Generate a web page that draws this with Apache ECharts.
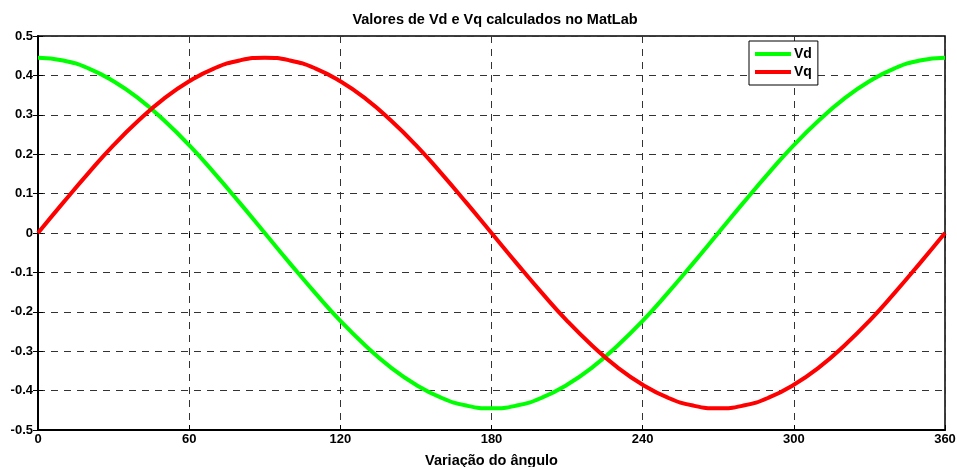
<!DOCTYPE html>
<html><head><meta charset="utf-8">
<script src="https://cdn.jsdelivr.net/npm/echarts@6/dist/echarts.min.js"></script>
<style>html,body{margin:0;padding:0;background:#fff}#c{width:957px;height:467px}</style>
</head><body><div id="c"></div>
<script>
const angles = [0,10,20,30,40,50,60,70,80,90,100,110,120,130,140,150,160,170,180,190,200,210,220,230,240,250,260,270,280,290,300,310,320,330,340,350,360];
const vd = [0.445,0.438,0.418,0.385,0.341,0.286,0.223,0.152,0.077,0,-0.077,-0.152,-0.223,-0.286,-0.341,-0.385,-0.418,-0.438,-0.445,-0.438,-0.418,-0.385,-0.341,-0.286,-0.223,-0.152,-0.077,0,0.077,0.152,0.223,0.286,0.341,0.385,0.418,0.438,0.445];
const vq = [0,0.077,0.152,0.223,0.286,0.341,0.385,0.418,0.438,0.445,0.438,0.418,0.385,0.341,0.286,0.223,0.152,0.077,0,-0.077,-0.152,-0.223,-0.286,-0.341,-0.385,-0.418,-0.438,-0.445,-0.438,-0.418,-0.385,-0.341,-0.286,-0.223,-0.152,-0.077,0];
const titleText = 'Valores de Vd e Vq calculados no MatLab';
const xName = 'Variação do ângulo';

const font = 'Liberation Sans, Arial, sans-serif';
const chart = echarts.init(document.getElementById('c'));
const gridLine = {show:true, lineStyle:{color:'#333', type:[7,6], width:1}};
const tickStyle = {show:true, inside:true, length:5, lineStyle:{color:'#000'}};
chart.setOption({
  animation:false,
  backgroundColor:'#fff',
  title:{text:titleText, left:490, top:7, textAlign:'center',
    textStyle:{fontFamily:font, fontSize:14.5, fontWeight:'bold', color:'#000'}},
  legend:{data:['Vd','Vq'], orient:'vertical', left:749, top:41,
    backgroundColor:'#fff', borderColor:'#000', borderWidth:1, padding:[6,6,6,6],
    itemWidth:36, itemHeight:4, itemGap:4, icon:'rect',
    textStyle:{fontFamily:font, fontSize:14, fontWeight:'bold', color:'#000', padding:[0,0,0,-2]}},
  grid:{left:38, right:12, top:36, bottom:37, show:true, borderColor:'#000', borderWidth:1.5,
    containLabel:false, outerBoundsMode:'none'},
  xAxis:[{type:'value', min:0, max:360, interval:60,
    name:xName, nameLocation:'middle', nameGap:23,
    nameTextStyle:{fontFamily:font, fontSize:14.5, fontWeight:'bold', color:'#000'},
    axisLine:{show:true, onZero:false, lineStyle:{color:'#000', width:2}},
    axisTick:tickStyle,
    axisLabel:{fontFamily:font, fontSize:13, fontWeight:'bold', color:'#000', margin:3},
    splitLine:gridLine},
    {type:'value', min:0, max:360, interval:60, position:'top',
    axisLine:{show:false}, axisTick:tickStyle, axisLabel:{show:false}, splitLine:{show:false}}],
  yAxis:[{type:'value', min:-0.5, max:0.5, interval:0.1,
    axisLine:{show:true, onZero:false, lineStyle:{color:'#000', width:2}},
    axisTick:tickStyle,
    axisLabel:{fontFamily:font, fontSize:13, fontWeight:'bold', color:'#000', margin:5,
      formatter:v=>String(Math.round(v*10)/10)},
    splitLine:gridLine},
    {type:'value', min:-0.5, max:0.5, interval:0.1, position:'right',
    axisLine:{show:false}, axisTick:tickStyle, axisLabel:{show:false}, splitLine:{show:false}}],
  series:[
    {name:'Vd', type:'line', data:angles.map((a,i)=>[a,vd[i]]), smooth:true, showSymbol:false,
      lineStyle:{color:'#00ff00', width:4}, itemStyle:{color:'#00ff00'}},
    {name:'Vq', type:'line', data:angles.map((a,i)=>[a,vq[i]]), smooth:true, showSymbol:false,
      lineStyle:{color:'#ff0000', width:4}, itemStyle:{color:'#ff0000'}}
  ]
});
</script></body></html>
